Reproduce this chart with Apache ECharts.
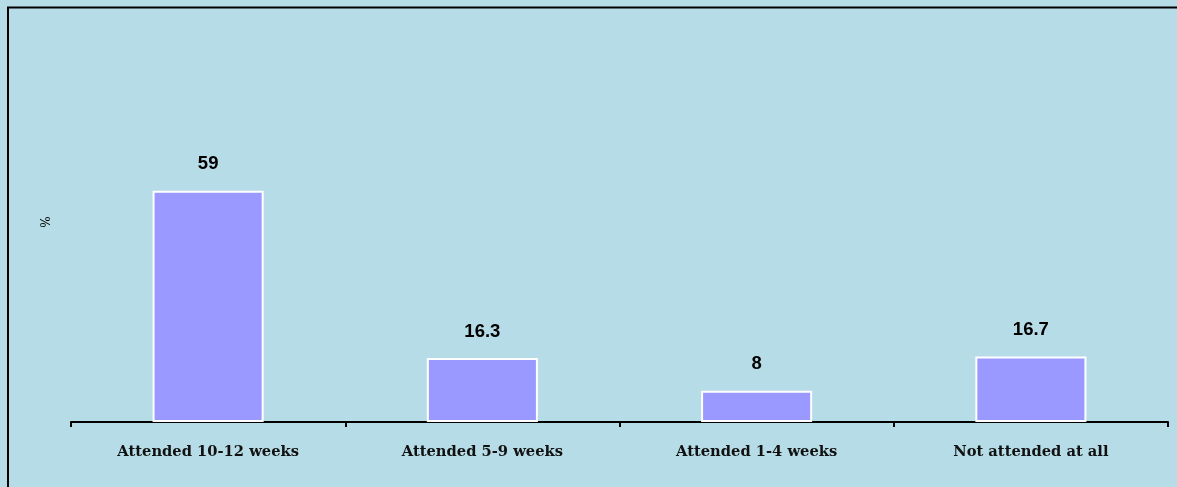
<!DOCTYPE html>
<html>
<head>
<meta charset="utf-8">
<title>Attendance</title>
<script src="https://cdn.jsdelivr.net/npm/echarts@6/dist/echarts.min.js"></script>
<style>
  html, body { margin: 0; padding: 0; background: #b6dde7; }
  #chart { width: 1177px; height: 487px; }
</style>
</head>
<body>
<div id="chart"></div>
<script>
// Weeks of attendance, share of respondents (%)
const categories = ['Attended 10-12 weeks', 'Attended 5-9 weeks', 'Attended 1-4 weeks', 'Not attended at all'];
const percentages = [59, 16.3, 8, 16.7];
const yAxisName = '%';

const chart = echarts.init(document.getElementById('chart'), null, { renderer: 'canvas' });

chart.setOption({
  backgroundColor: '#b6dde7',
  animation: false,
  grid: { left: 71, right: 9, top: 30, bottom: 65 },
  graphic: [{
    type: 'rect',
    silent: true,
    shape: { x: 8, y: 7.5, width: 1300, height: 600 },
    style: { fill: 'none', stroke: '#000', lineWidth: 2 }
  }],
  xAxis: {
    type: 'category',
    data: categories,
    axisLine: { lineStyle: { color: '#000', width: 2 } },
    axisTick: { show: true, length: 5, lineStyle: { color: '#000', width: 2 } },
    axisLabel: {
      color: '#111',
      fontFamily: 'DejaVu Serif',
      fontWeight: 'bold',
      fontSize: 14.7,
      margin: 23
    }
  },
  yAxis: {
    type: 'value',
    min: 0,
    max: 100,
    interval: 20,
    name: yAxisName,
    nameLocation: 'middle',
    nameRotate: 90,
    nameGap: 18,
    nameTextStyle: { color: '#000', fontFamily: 'DejaVu Serif', fontSize: 12, padding: [0, 0, 0, 8] },
    axisLine: { show: false },
    axisTick: { show: false },
    axisLabel: { show: false },
    splitLine: { show: false }
  },
  series: [{
    type: 'bar',
    data: percentages,
    barWidth: '40.5%',
    itemStyle: { color: '#9999ff', borderColor: '#ffffff', borderWidth: 2 },
    label: {
      show: true,
      position: 'top',
      distance: 17,
      color: '#000',
      fontFamily: 'Liberation Sans, Arial, sans-serif',
      fontWeight: 'bold',
      fontSize: 18.5
    }
  }]
});
</script>
</body>
</html>
